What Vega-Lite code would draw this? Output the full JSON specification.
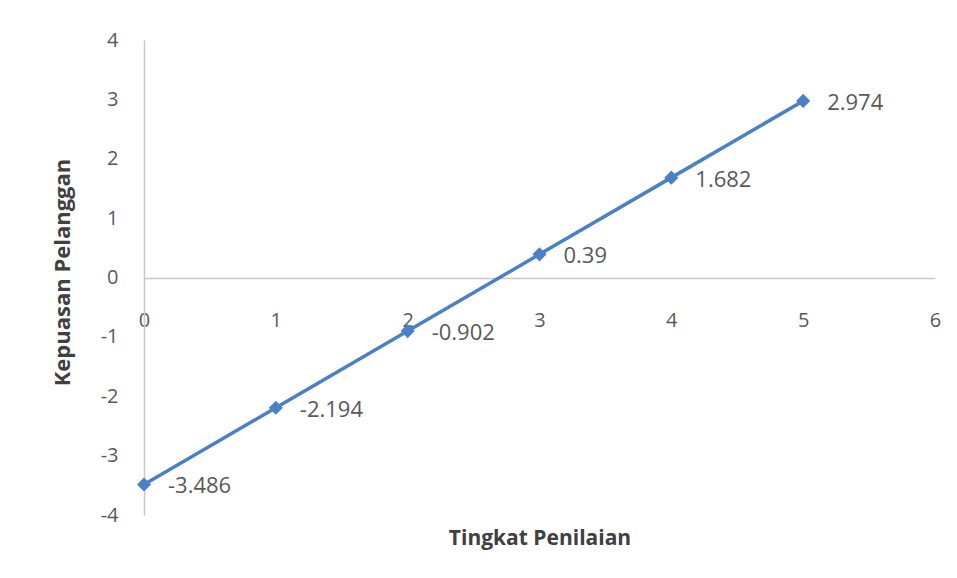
{
  "$schema": "https://vega.github.io/schema/vega-lite/v6.json",
  "autosize": {"type": "none"},
  "padding": {"left": 144, "top": 40, "right": 22, "bottom": 63},
  "width": 791,
  "height": 475,
  "background": "white",
  "config": {
    "locale": {
      "number": {"decimal": ".", "thousands": ",", "grouping": [3], "currency": ["", ""], "minus": "-"}
    },
    "view": {"stroke": null},
    "font": "Open Sans",
    "axis": {"grid": false, "ticks": false, "domainColor": "#c8c8c8", "domainWidth": 1.5, "labelColor": "#595959", "labelFont": "Open Sans", "labelFontSize": 20, "titleFont": "Open Sans", "titleColor": "#404040", "titleFontWeight": "bold"}
  },
  "data": {
    "values": [
      {"tingkat": 0, "kepuasan": -3.486},
      {"tingkat": 1, "kepuasan": -2.194},
      {"tingkat": 2, "kepuasan": -0.902},
      {"tingkat": 3, "kepuasan": 0.39},
      {"tingkat": 4, "kepuasan": 1.682},
      {"tingkat": 5, "kepuasan": 2.974}
    ]
  },
  "encoding": {
    "x": {
      "field": "tingkat",
      "type": "quantitative",
      "scale": {"domain": [0, 6], "nice": false, "zero": false},
      "axis": {
        "title": "Tingkat Penilaian",
        "titleFontSize": 21,
        "values": [0, 1, 2, 3, 4, 5, 6],
        "format": "d",
        "offset": -237,
        "labelPadding": 32,
        "labelFlush": false,
        "titleY": 260,
        "titleBaseline": "middle"
      }
    },
    "y": {
      "field": "kepuasan",
      "type": "quantitative",
      "scale": {"domain": [-4, 4], "nice": false},
      "axis": {
        "title": "Kepuasan Pelanggan",
        "titleFontSize": 22,
        "values": [-4, -3, -2, -1, 0, 1, 2, 3, 4],
        "format": "d",
        "labelPadding": 26,
        "titleX": -82,
        "titleY": 232,
        "titleAlign": "center",
        "titleBaseline": "middle"
      }
    }
  },
  "layer": [
    {"mark": {"type": "line", "color": "#4a80c6", "strokeWidth": 3.5}},
    {"mark": {"type": "point", "shape": "diamond", "filled": true, "color": "#4a80c6", "opacity": 1, "size": 200}},
    {
      "mark": {"type": "text", "align": "left", "baseline": "middle", "dx": 24, "dy": 2, "fontSize": 22, "color": "#595959", "font": "Open Sans"},
      "encoding": {"text": {"field": "kepuasan", "type": "quantitative"}}
    }
  ]
}
